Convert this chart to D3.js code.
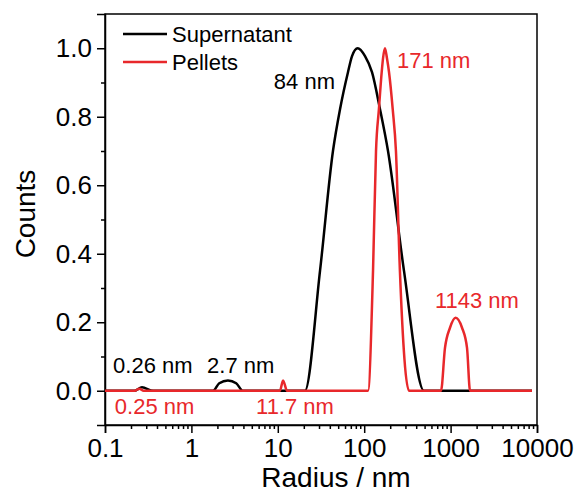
<!DOCTYPE html>
<html>
<head>
<meta charset="utf-8">
<script src="https://cdn.jsdelivr.net/npm/d3@7"></script>
<style>
  body { margin: 0; background: #fff; }
  svg { display: block; font-family: "Liberation Sans", Arial, sans-serif; }
</style>
</head>
<body>
<svg width="582" height="492"></svg>
<script>
// radius (nm) / normalised counts
const supRadius = [0.1, 0.22, 0.268, 0.36, 1.78, 2.1, 2.65, 3.3, 3.95, 20.6, 30.8, 43.5, 52.5, 64.9, 72.3, 84, 102.2, 123.1, 152.4, 188.6, 288.8, 492, 8750];
const supCounts = [0, 0, 0.01, 0, 0, 0.022, 0.03, 0.022, 0, 0, 0.35, 0.70, 0.822, 0.93, 0.977, 1.0, 0.977, 0.93, 0.822, 0.70, 0.35, 0, 0];

const pelRadius = [0.1, 0.22, 0.25, 0.28, 10.6, 11.5, 12.8, 110.7, 126.5, 137, 148, 159.4, 165, 174, 183.6, 193.8, 213.8, 233, 259, 330, 774, 861, 984, 1143, 1356, 1549, 1679, 8750];
const pelCounts = [0, 0, 0.006, 0, 0, 0.03, 0, 0, 0.35, 0.70, 0.822, 0.93, 0.97, 1.0, 0.97, 0.93, 0.822, 0.70, 0.35, 0, 0, 0.125, 0.184, 0.213, 0.184, 0.125, 0, 0];

const xTicks = [0.1, 1, 10, 100, 1000, 10000];
const yTicks = [0, 0.2, 0.4, 0.6, 0.8, 1.0];

const seriesNames = ["Supernatant", "Pellets"];
const seriesColors = ["#000000", "#e8282b"];

// peak labels: [text, radius, count, series, anchor]
const peakLabels = [
  ["84 nm", 45.9, 0.88, 0, "end"],
  ["171 nm", 240, 0.942, 1, "start"],
  ["1143 nm", 659, 0.242, 1, "start"],
  ["0.26 nm", 0.124, 0.052, 0, "start"],
  ["2.7 nm", 1.52, 0.052, 0, "start"],
  ["0.25 nm", 0.130, -0.067, 1, "start"],
  ["11.7 nm", 5.6, -0.067, 1, "start"]
];

const svg = d3.select("svg");
const margin = { top: 14, right: 45, bottom: 67, left: 105 };
const width = 582, height = 492;

const x = d3.scaleLog()
  .domain([0.1, 10000])
  .range([margin.left, width - margin.right]);
const y = d3.scaleLinear()
  .domain([-0.1, 1.1])
  .range([height - margin.bottom, margin.top]);

const tickFont = "26px";

// x axis
svg.append("g")
  .attr("transform", `translate(0,${height - margin.bottom})`)
  .call(d3.axisBottom(x).tickValues(xTicks).tickFormat(d => String(d)).tickSize(8).tickPadding(6));
const xMinor = [];
xTicks.slice(0, -1).forEach(t => { for (let k = 2; k <= 9; k++) xMinor.push(t * k); });
svg.append("g")
  .attr("transform", `translate(0,${height - margin.bottom})`)
  .call(d3.axisBottom(x).tickValues(xMinor).tickFormat("").tickSize(4))
  .call(g => g.select(".domain").remove());

// y axis
svg.append("g")
  .attr("transform", `translate(${margin.left},0)`)
  .call(d3.axisLeft(y).tickValues(yTicks).tickFormat(d3.format(".1f")).tickSize(8).tickPadding(5));
svg.append("g")
  .attr("transform", `translate(${margin.left},0)`)
  .call(d3.axisLeft(y).tickValues([0.1, 0.3, 0.5, 0.7, 0.9]).tickFormat("").tickSize(4))
  .call(g => g.select(".domain").remove());

svg.selectAll(".tick line").attr("stroke-width", 1.5);
svg.selectAll(".domain").attr("stroke-width", 1.5);
svg.selectAll(".tick text")
  .attr("font-size", tickFont)
  .attr("font-family", "Liberation Sans, Arial, sans-serif")
  .attr("fill", "#000");

// frame
svg.append("rect")
  .attr("x", margin.left).attr("y", margin.top)
  .attr("width", width - margin.left - margin.right)
  .attr("height", height - margin.top - margin.bottom)
  .attr("fill", "none")
  .attr("stroke", "#000")
  .attr("stroke-width", 1.5);

// axis titles
svg.append("text")
  .attr("x", 336).attr("y", 487)
  .attr("text-anchor", "middle")
  .attr("font-size", "28px")
  .text("Radius / nm");
svg.append("text")
  .attr("transform", "translate(35,214) rotate(-90)")
  .attr("text-anchor", "middle")
  .attr("font-size", "28px")
  .text("Counts");

// curves
const line = d3.line()
  .x(d => x(d[0]))
  .y(d => y(d[1]))
  .curve(d3.curveMonotoneX);

const series = [
  d3.zip(supRadius, supCounts),
  d3.zip(pelRadius, pelCounts)
];
series.forEach((s, i) => {
  svg.append("path")
    .datum(s)
    .attr("d", line)
    .attr("fill", "none")
    .attr("stroke", seriesColors[i])
    .attr("stroke-width", 2.5)
    .attr("stroke-linejoin", "round");
});

// peak labels
svg.append("g")
  .selectAll("text")
  .data(peakLabels)
  .join("text")
    .attr("x", d => x(d[1]))
    .attr("y", d => y(d[2]))
    .attr("text-anchor", d => d[4])
    .attr("font-size", "22px")
    .attr("fill", d => seriesColors[d[3]])
    .text(d => d[0]);

// legend
const legend = svg.append("g").attr("transform", "translate(123,34)");
seriesNames.forEach((name, i) => {
  const row = legend.append("g").attr("transform", `translate(0,${i * 28})`);
  row.append("line")
    .attr("x1", 0).attr("x2", 44)
    .attr("stroke", seriesColors[i])
    .attr("stroke-width", 2.5);
  row.append("text")
    .attr("x", 49).attr("y", 8)
    .attr("font-size", "22px")
    .text(name);
});
</script>
</body>
</html>
